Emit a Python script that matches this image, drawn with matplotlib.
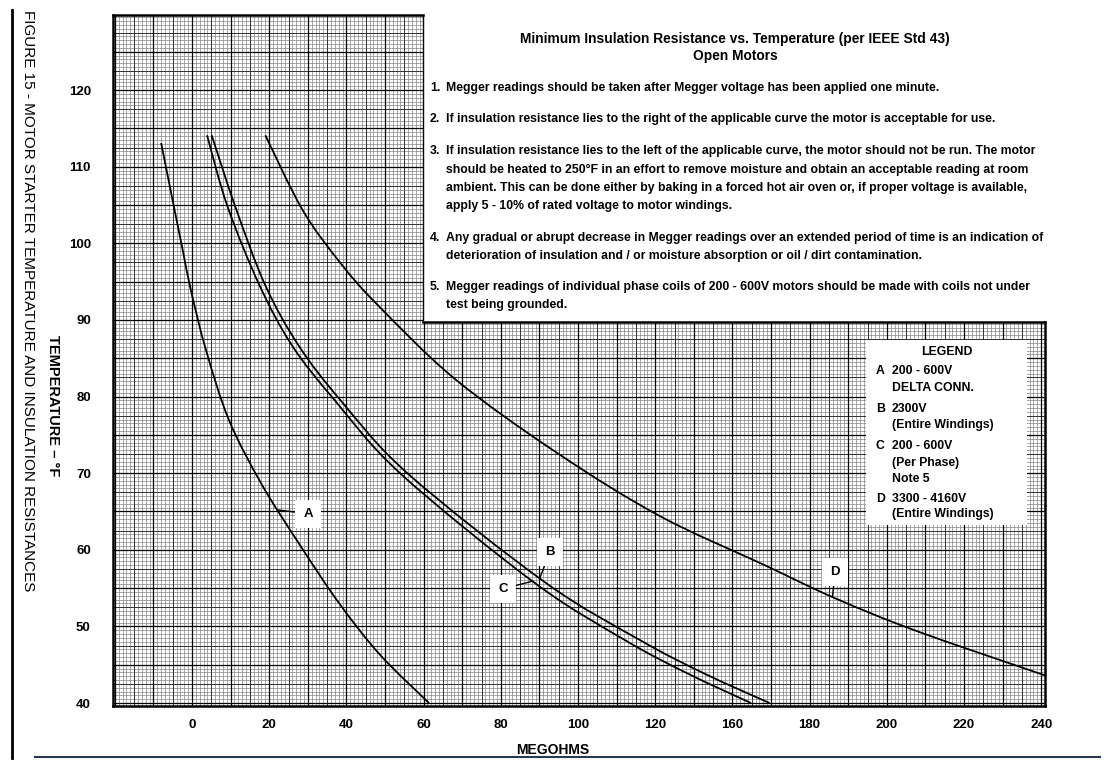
import numpy as np
import matplotlib
matplotlib.use("Agg")
import matplotlib.pyplot as plt
from matplotlib import font_manager
from matplotlib.patches import Rectangle, PathPatch
from matplotlib.path import Path
from matplotlib.lines import Line2D

# ---------------- data (x in chart units along the printed MEGOHMS scale) -------------
x_tick_pos = [0, 20, 40, 60, 80, 100, 120, 140, 160, 180, 200, 220]
x_tick_labels = ["0", "20", "40", "60", "80", "100", "120", "160", "180", "200", "220", "240"]
y_ticks = [40, 50, 60, 70, 80, 90, 100, 110, 120]

curve_a_x = [-8.0, -5.1, -2.4, -0.3, 3.6, 9.6, 18.1, 27.6, 38.0, 48.7, 61.4]
curve_a_y = [113.1, 105.8, 99.1, 93.9, 86.1, 76.9, 68.5, 60.9, 53.1, 46.3, 40.0]

curve_b_x = [5.1, 11.2, 19.0, 27.7, 38.5, 56.0, 91.6, 116.1, 132.5, 149.6]
curve_b_y = [114.1, 104.8, 94.5, 86.6, 79.5, 69.9, 55.7, 48.2, 43.9, 40.0]

curve_c_x = [3.9, 9.2, 17.5, 26.0, 37.0, 54.1, 88.7, 112.2, 128.2, 144.8]
curve_c_y = [114.1, 104.8, 94.5, 86.6, 79.5, 69.9, 55.7, 48.2, 43.9, 40.0]

curve_d_x = [19.0, 28.7, 38.5, 48.2, 68.1, 94.7, 121.2, 147.9, 166.5, 187.7, 221.0]
curve_d_y = [114.1, 104.3, 97.4, 91.9, 82.3, 72.6, 64.4, 58.1, 53.7, 49.4, 43.6]

curve_names = ["A", "B", "C", "D"]
label_xy = [(30.1, 64.7), (92.7, 59.7), (80.6, 54.9), (166.6, 57.1)]
pointer_xy = [(22.3, 65.2), (90.1, 56.3), (88.2, 55.9), (165.9, 53.8)]

title_lines = ["Minimum Insulation Resistance vs. Temperature (per IEEE Std 43)", "Open Motors"]
notes = [
    ("1.", ["Megger readings should be taken after Megger voltage has been applied one minute."]),
    ("2.", ["If insulation resistance lies to the right of the applicable curve the motor is acceptable for use."]),
    ("3.", ["If insulation resistance lies to the left of the applicable curve, the motor should not be run. The motor",
            "should be heated to 250\u00b0F in an effort to remove moisture and obtain an acceptable reading at room",
            "ambient. This can be done either by baking in a forced hot air oven or, if proper voltage is available,",
            "apply 5 - 10% of rated voltage to motor windings."]),
    ("4.", ["Any gradual or abrupt decrease in Megger readings over an extended period of time is an indication of",
            "deterioration of insulation and / or moisture absorption or oil / dirt contamination."]),
    ("5.", ["Megger readings of individual phase coils of 200 - 600V motors should be made with coils not under",
            "test being grounded."]),
]
legend_items = [
    ("A", ["200 - 600V", "DELTA CONN."]),
    ("B", ["2300V", "(Entire Windings)"]),
    ("C", ["200 - 600V", "(Per Phase)", "Note 5"]),
    ("D", ["3300 - 4160V", "(Entire Windings)"]),
]

# ---------------- fonts ----------------
names = {f.name for f in font_manager.fontManager.ttflist}
FONT = "Liberation Sans" if "Liberation Sans" in names else "DejaVu Sans"
plt.rcParams["font.family"] = [FONT, "DejaVu Sans"]

W, H = 1114, 761
fig = plt.figure(figsize=(W / 100, H / 100), dpi=100)
fig.patch.set_facecolor("white")


def fx(x):
    return x / W


def fy(y):
    return 1 - y / H


# axes frame in pixels: left 113, right 1045, top 15, bottom 706
L, R, T, B = 113, 1045, 15, 706
ax = fig.add_axes([fx(L), fy(B), (R - L) / W, (B - T) / H])
ax.set_xlim(-20.47, 220.98)
ax.set_ylim(39.61, 129.8)

# graph-paper grid
xmin, xmax = ax.get_xlim()
ymin, ymax = ax.get_ylim()
ax.vlines(np.arange(-20, 222, 1.0), ymin, ymax, colors="#7a7a7a", lw=0.45, zorder=1)
ax.hlines(np.arange(40, 130, 0.5), xmin, xmax, colors="#7a7a7a", lw=0.45, zorder=1)
ax.vlines(np.arange(-20, 222, 5.0), ymin, ymax, colors="#2a2a2a", lw=0.65, zorder=1)
ax.hlines(np.arange(40, 130, 2.5), xmin, xmax, colors="#2a2a2a", lw=0.65, zorder=1)
ax.vlines(np.arange(-20, 222, 10.0), ymin, ymax, colors="black", lw=0.9, zorder=1)
ax.hlines(np.arange(40, 130, 5.0), xmin, xmax, colors="black", lw=0.9, zorder=1)


def smooth_path(xs, ys):
    """Catmull-Rom curve drawn as cubic Bezier segments through every data point."""
    p = np.column_stack([xs, ys]).astype(float)
    n = len(p)
    verts = [p[0]]
    codes = [Path.MOVETO]
    for i in range(n - 1):
        p0 = p[i - 1] if i > 0 else p[i]
        p1, p2 = p[i], p[i + 1]
        p3 = p[i + 2] if i + 2 < n else p[i + 1]
        c1 = p1 + (p2 - p0) / 6.0
        c2 = p2 - (p3 - p1) / 6.0
        verts += [c1, c2, p2]
        codes += [Path.CURVE4] * 3
    return Path(verts, codes)


for cx, cy in [(curve_a_x, curve_a_y), (curve_b_x, curve_b_y), (curve_c_x, curve_c_y), (curve_d_x, curve_d_y)]:
    ax.add_patch(PathPatch(smooth_path(cx, cy), fill=False, ec="black", lw=1.3, zorder=4))

# curve labels
for name, lxy, pxy in zip(curve_names, label_xy, pointer_xy):
    ax.annotate(name, xy=pxy, xytext=lxy, ha="center", va="center",
                fontsize=9.5, fontweight="bold", zorder=6,
                bbox=dict(boxstyle="square,pad=0.6", fc="white", ec="none"),
                arrowprops=dict(arrowstyle="-", lw=1.0, color="black", shrinkA=0, shrinkB=0))

# ticks
ax.set_xticks(x_tick_pos)
ax.set_xticklabels(x_tick_labels)
ax.set_yticks(y_ticks)
ax.tick_params(length=0, labelsize=9.5)
for lab in ax.get_xticklabels() + ax.get_yticklabels():
    lab.set_fontweight("bold")
ax.tick_params(axis="x", pad=9)
ax.tick_params(axis="y", pad=16)

for s in ax.spines.values():
    s.set_visible(False)

# note box (white, covering top-right of grid)
bx0 = (423 - L) / (R - L)
by0 = (B - 322) / (B - T)
ax.add_patch(Rectangle((bx0, by0), 1 - bx0 + 0.06, 1 - by0 + 0.01, transform=ax.transAxes,
                       fc="white", ec="none", zorder=5, clip_on=False))
# frame lines
frame_kw = dict(color="black", transform=ax.transAxes, zorder=7, clip_on=False, solid_capstyle="projecting")
ax.add_line(Line2D([0, 0], [0, 1], lw=1.8, **frame_kw))
ax.add_line(Line2D([0, 1], [0, 0], lw=1.8, **frame_kw))
ax.add_line(Line2D([0, bx0], [1, 1], lw=1.8, **frame_kw))
ax.add_line(Line2D([1, 1], [0, by0], lw=1.8, **frame_kw))
ax.add_line(Line2D([bx0, 1], [by0, by0], lw=1.8, **frame_kw))
ax.add_line(Line2D([bx0, bx0], [by0, 1], lw=1.0, **frame_kw))

# legend box
lx0 = (866 - L) / (R - L)
lx1 = (1027 - L) / (R - L)
ly0 = (B - 525) / (B - T)
ly1 = (B - 340) / (B - T)
ax.add_patch(Rectangle((lx0, ly0), lx1 - lx0, ly1 - ly0, transform=ax.transAxes,
                       fc="white", ec="none", zorder=5))

fig.canvas.draw()
renderer = fig.canvas.get_renderer()


def fit(t, target, vertical=False):
    bb = t.get_window_extent(renderer)
    w = bb.height if vertical else bb.width
    t.set_fontsize(t.get_fontsize() * target / w)
    return t.get_fontsize()


# title
t1 = fig.text(fx(735), fy(39), title_lines[0], ha="center", va="center", fontsize=10, fontweight="bold", zorder=8)
fs_title = fit(t1, 428)
fig.text(fx(735), fy(56), title_lines[1], ha="center", va="center", fontsize=fs_title, fontweight="bold", zorder=8)

# notes
probe = fig.text(fx(446), fy(151), notes[2][1][0], ha="left", va="center", fontsize=9, fontweight="bold", zorder=8)
fs_note = fit(probe, 587)
probe.remove()
note_y = [[88], [119], [151, 170, 188, 206], [238, 256], [287, 305]]
for (num, lines), ys in zip(notes, note_y):
    fig.text(fx(430), fy(ys[0]), num, ha="left", va="center", fontsize=fs_note, fontweight="bold", zorder=8)
    for line, yy in zip(lines, ys):
        fig.text(fx(446), fy(yy), line, ha="left", va="center", fontsize=fs_note, fontweight="bold", zorder=8)

# legend text
probe = fig.text(fx(892), fy(425), "(Entire Windings)", ha="left", va="center", fontsize=9, fontweight="bold")
fs_leg = fit(probe, 101)
probe.remove()
fig.text(fx(947), fy(352), "LEGEND", ha="center", va="center", fontsize=fs_leg, fontweight="bold", zorder=8)
leg_y = [[371, 388], [409, 425], [446, 463, 479], [499, 514]]
for (letter, lines), ys in zip(legend_items, leg_y):
    fig.text(fx(876), fy(ys[0]), letter, ha="left", va="center", fontsize=fs_leg, fontweight="bold", zorder=8)
    for line, yy in zip(lines, ys):
        fig.text(fx(892), fy(yy), line, ha="left", va="center", fontsize=fs_leg, fontweight="bold", zorder=8)

# axis titles
fig.text(fx(553), fy(750), "MEGOHMS", ha="center", va="center", fontsize=10, fontweight="bold")
fig.text(fx(53), fy(406), "TEMPERATURE \u2013 \u00b0F", rotation=-90, ha="center", va="center",
         fontsize=10.5, fontweight="bold")
ft = fig.text(fx(28), fy(10), "FIGURE 15 - MOTOR STARTER TEMPERATURE AND INSULATION RESISTANCES",
              rotation=-90, ha="center", va="top", fontsize=12)
fit(ft, 582, vertical=True)

# page rules
fig.add_artist(Line2D([fx(12), fx(12)], [fy(10), fy(758)], color="black", lw=2.0))
fig.add_artist(Line2D([fx(35), fx(1100)], [fy(757), fy(757)], color="#2b3a4a", lw=1.5))

fig.savefig("out.png", dpi=100, facecolor="white")
